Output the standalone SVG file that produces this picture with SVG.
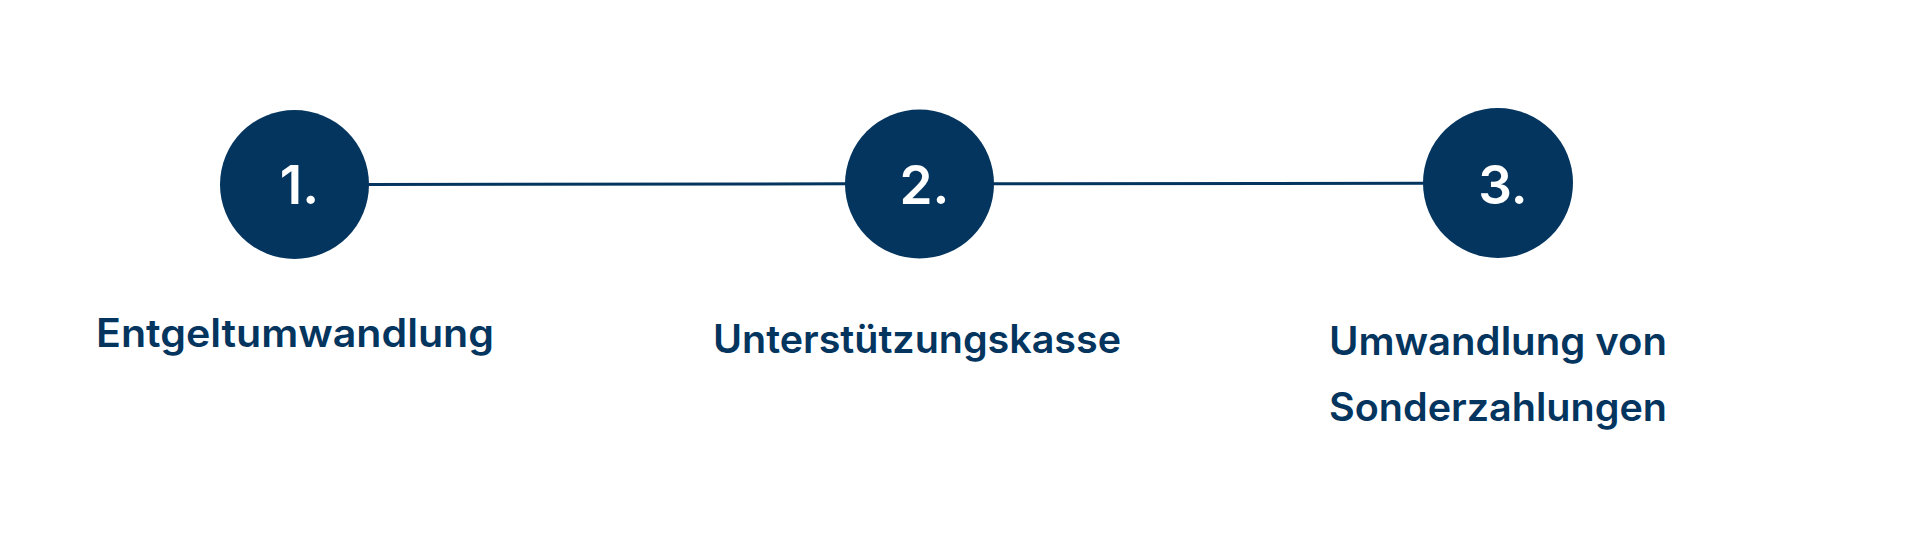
<svg xmlns="http://www.w3.org/2000/svg" width="1920" height="559" viewBox="0 0 1920 559">
<style>
.c{fill:#04355f}
.n{font-family:Inter,Lato,sans-serif;font-weight:600;font-size:53px;fill:#ffffff;text-anchor:middle}
.l{font-family:Inter,Lato,sans-serif;font-weight:600;font-size:39px;fill:#04355f}
.k{stroke:#04355f;stroke-width:3;fill:none}
</style>
<rect width="1920" height="559" fill="#ffffff"/>
<g id="connectors">
<line class="k" x1="368" y1="184.5" x2="847" y2="183.8"/>
<line class="k" x1="993" y1="183.8" x2="1425" y2="183.3"/>
</g>
<g id="node1">
<circle class="c" cx="294.5" cy="184.5" r="74.5"/>
<text class="n" x="299.5" y="204">1.</text>
<text class="l" x="96" y="347" textLength="398" lengthAdjust="spacingAndGlyphs">Entgeltumwandlung</text>
</g>
<g id="node2">
<circle class="c" cx="919.5" cy="184" r="74.5"/>
<text class="n" x="924.5" y="204">2.</text>
<text class="l" x="713" y="353" textLength="408" lengthAdjust="spacingAndGlyphs">Unterstützungskasse</text>
</g>
<g id="node3">
<circle class="c" cx="1498" cy="183" r="75"/>
<text class="n" x="1503" y="203.5">3.</text>
<text class="l" x="1329" y="355" textLength="338" lengthAdjust="spacingAndGlyphs">Umwandlung von</text>
<text class="l" x="1329" y="421" textLength="338" lengthAdjust="spacingAndGlyphs">Sonderzahlungen</text>
</g>
</svg>
